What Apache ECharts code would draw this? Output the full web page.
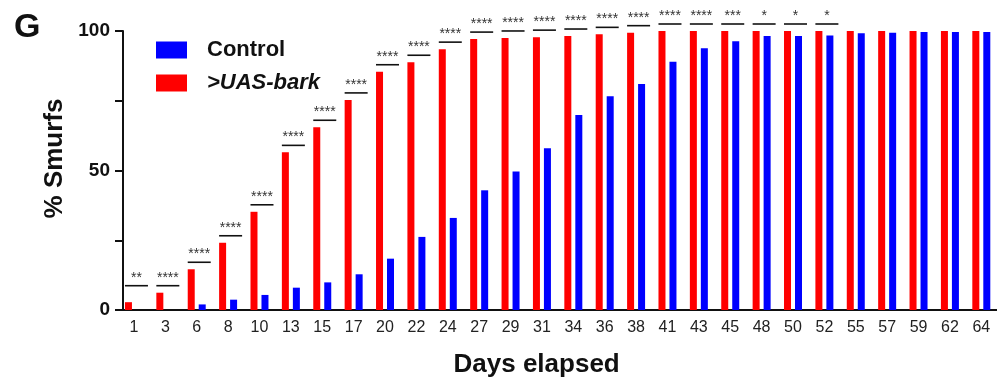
<!DOCTYPE html>
<html>
<head>
<meta charset="utf-8">
<script src="https://cdn.jsdelivr.net/npm/echarts@6/dist/echarts.min.js"></script>
<style>html,body{margin:0;padding:0;background:#fff}#c{width:997px;height:392px}</style>
</head>
<body>
<div id="c"></div>
<script>
const days = ['1','3','6','8','10','13','15','17','20','22','24','27','29','31','34','36','38','41','43','45','48','50','52','55','57','59','62','64'];
const barkValues = [2.8,6.2,14.6,24.1,35.2,56.5,65.5,75.3,85.4,88.8,93.5,97.1,97.5,97.8,98.2,98.8,99.4,100,100,100,100,100,100,100,100,100,100,100];
const controlValues = [0,0,2.0,3.7,5.4,8.0,9.9,12.8,18.4,26.2,33.0,42.9,49.6,58.0,69.9,76.6,81.0,89.0,93.8,96.3,98.2,98.2,98.4,99.2,99.4,99.6,99.6,99.6];
const sigLabels = ['**','****','****','****','****','****','****','****','****','****','****','****','****','****','****','****','****','****','****','***','*','*','*','','','','',''];
const yTicks = [0,25,50,75,100];
const yTickLabels = ['0','','50','','100'];

const FONT = "'Liberation Sans', Arial, Helvetica, sans-serif";
const sigFloor = barkValues[1];
const sigData = days.map((d, i) => [i, Math.max(barkValues[i], controlValues[i], sigFloor), sigLabels[i]]);

const chart = echarts.init(document.getElementById('c'), null, {renderer: 'canvas'});
chart.setOption({
  animation: false,
  backgroundColor: '#fff',
  textStyle: {fontFamily: FONT},
  graphic: [{
    type: 'text', left: 14, top: 11,
    style: {text: 'G', font: 'bold 34px ' + FONT, fill: '#111'}
  }],
  legend: {
    orient: 'vertical', left: 151, top: 34,
    itemWidth: 31, itemHeight: 17, itemGap: 11,
    icon: 'rect',
    textStyle: {fontFamily: FONT, fontSize: 22, fontWeight: 'bold', color: '#111', padding: [0,0,0,15]},
    data: [
      {name: 'Control'},
      {name: '>UAS-bark', textStyle: {fontStyle: 'italic'}}
    ]
  },
  grid: {left: 118.26, top: 31, width: 881.4, height: 279, containLabel: false},
  xAxis: {
    type: 'category',
    data: days,
    boundaryGap: true,
    axisLine: {lineStyle: {color: '#111', width: 2}},
    axisTick: {show: false},
    axisLabel: {interval: 0, fontSize: 16, color: '#222', margin: 10, fontFamily: FONT},
    name: 'Days elapsed',
    nameLocation: 'middle',
    nameGap: 42,
    nameTextStyle: {fontSize: 26, fontWeight: 'bold', color: '#111', fontFamily: FONT, padding: [0,42,0,0]}
  },
  yAxis: {
    type: 'value',
    min: 0, max: 100, interval: 25,
    offset: -4.74,
    axisLine: {show: true, lineStyle: {color: '#111', width: 2}},
    axisTick: {show: true, length: 8, lineStyle: {color: '#111', width: 2}},
    splitLine: {show: false},
    axisLabel: {
      fontSize: 19, fontWeight: 'bold', color: '#111', margin: 13, fontFamily: FONT,
      formatter: v => yTickLabels[yTicks.indexOf(v)] ?? ''
    },
    name: '% Smurfs',
    nameLocation: 'middle',
    nameGap: 55,
    nameTextStyle: {fontSize: 26, fontWeight: 'bold', color: '#111', fontFamily: FONT, padding: [0,0,0,24]}
  },
  series: [
    {
      name: '>UAS-bark', type: 'bar', data: barkValues,
      barWidth: 7, barGap: '57%',
      itemStyle: {color: '#ff0000'}
    },
    {
      name: 'Control', type: 'bar', data: controlValues,
      barWidth: 7, barGap: '57%',
      itemStyle: {color: '#0000ff'}
    },
    {
      name: 'sig', type: 'custom', data: sigData, z: 5, silent: true, clip: false,
      encode: {x: 0, y: 1},
      renderItem: function (params, api) {
        const label = sigLabels[api.value(0)];
        if (!label) return null;
        const pt = api.coord([api.value(0), api.value(1)]);
        const y = pt[1] - 7;
        const x0 = pt[0] - 9, x1 = pt[0] + 14;
        return {
          type: 'group',
          children: [
            {type: 'line', shape: {x1: x0, y1: y, x2: x1, y2: y}, style: {stroke: '#111', lineWidth: 1.6}},
            {type: 'text', style: {text: label, x: (x0 + x1) / 2, y: y - 1, align: 'center', verticalAlign: 'bottom', font: '14px ' + FONT, fill: '#333'}}
          ]
        };
      }
    }
  ]
});
</script>
</body>
</html>
